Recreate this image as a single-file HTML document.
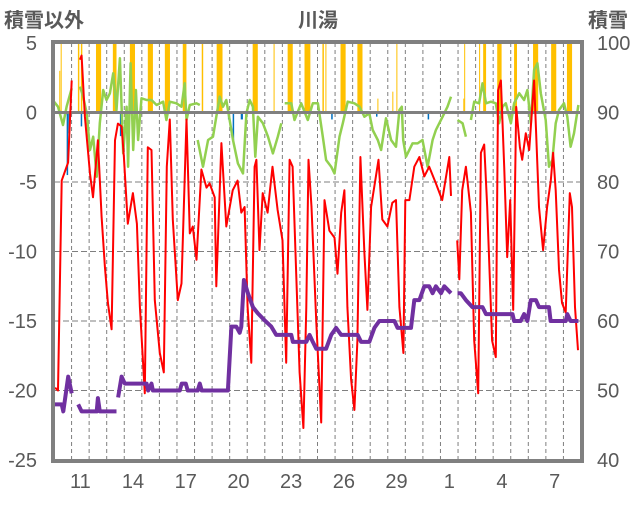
<!DOCTYPE html>
<html><head><meta charset="utf-8">
<style>
html,body{margin:0;padding:0;background:#fff;}
body{width:636px;height:501px;overflow:hidden;font-family:"Liberation Sans","Noto Sans CJK JP",sans-serif;}
svg text{fill:#595959;font-family:"Liberation Sans","Noto Sans CJK JP",sans-serif;}
</style></head>
<body>
<svg id="chart" width="636" height="501" viewBox="0 0 636 501" xmlns="http://www.w3.org/2000/svg">
<text x="4" y="27" font-size="20" font-weight="bold">積雪以外</text>
<text x="318" y="27" font-size="20" font-weight="bold" text-anchor="middle">川湯</text>
<text x="588" y="27" font-size="20" font-weight="bold">積雪</text>
<g id="grid"></g>
<g id="bars"></g>
<g id="lines"></g>
<g id="axes"></g>
</svg>
<script>
// ---- data ----
const xLabels = ["11","14","17","20","23","26","29","1","4","7"];
const xLabelDays = [1,4,7,10,13,16,19,22,25,28];
const leftTicks = [5,0,-5,-10,-15,-20,-25];
const rightTicks = [100,90,80,70,60,50,40];
const nDays = 30;
// red series (time in days, value)
const redT = [0.06,0.23,0.44,0.80,1.01,null,1.48,1.57,1.76,2.05,2.22,2.50,2.71,2.90,3.07,3.28,3.47,3.64,3.85,3.98,4.20,4.49,4.72,4.89,5.17,5.34,5.55,5.74,6.02,6.25,6.42,6.59,6.76,7.05,7.26,7.54,7.73,7.90,8.11,8.39,8.68,8.86,9.15,9.24,9.53,9.81,10.17,10.45,10.66,10.85,11.02,11.23,11.42,11.52,11.70,11.88,12.16,12.44,12.73,13.01,13.22,13.41,13.58,13.79,13.98,14.20,14.36,14.49,14.66,14.93,15.21,15.40,15.68,15.97,16.14,16.35,16.53,16.70,16.91,17.10,17.27,17.44,17.67,17.84,18.05,18.47,18.69,18.98,19.26,19.47,19.66,19.89,20.00,20.23,20.51,20.80,21.08,21.36,21.74,22.10,22.50,22.60,null,22.95,23.07,23.24,23.45,23.73,23.92,24.15,24.30,24.49,24.66,24.94,25.15,25.28,25.44,25.63,25.80,25.97,26.14,26.31,26.52,26.65,26.86,27.05,27.33,27.61,27.84,28.07,28.28,28.41,28.56,28.75,28.92,29.13,29.36,29.49,29.66,29.83];
const redV = [-19.8,-20,-4.9,-3.6,2.3,null,3.8,4.1,-0.3,-4.4,-6.1,-2,-7.5,-11.1,-13.7,-15.6,-2,-0.8,-1,-3.2,-8,-5.8,-8,-14,-20.2,-2.5,-2.7,-13.5,-17.3,-18.7,-3.9,-0.5,-7.7,-13.5,-12.3,-0.5,-8.7,-8.2,-10.6,-4.1,-5.4,-5.1,-6.1,-12.5,-2.2,-8.2,-5.6,-4.9,-7.2,-6.8,-14,-18,-3.9,-3.4,-9.9,-5.8,-7.2,-3.9,-7,-9.2,-18,-3.4,-3.9,-11.6,-18.7,-22.7,-14,-3.4,-6.8,-15.1,-22.3,-6.3,-8.5,-9,-11.6,-7.2,-5.6,-14,-19.2,-21.4,-16.4,-3.2,-10.1,-14.2,-6.8,-3.4,-7.7,-8.2,-6.5,-6.3,-14,-17.3,-6.3,-6.3,-3.9,-3.2,-4.6,-3.9,-5.1,-6.3,-3.2,-6,null,-9.2,-12,-5.6,-3.9,-7.2,-16.4,-20.2,-2.9,-2.3,-6.8,-16.4,-17.6,1.6,2.3,-3.9,-10.4,-6.3,-14.2,0.4,-2.5,-3.4,-1.5,-2.7,2.3,-6.8,-9.9,-6.8,-4.9,-2.9,-5.6,-11.3,-13.7,-14.4,-5.8,-6.8,-14,-17.1];
// green series
const greenT = [0,0.23,0.51,0.72,1.01,null,1.48,1.66,1.86,2.05,2.23,2.43,2.61,2.80,2.99,3.18,3.37,3.56,3.75,3.94,4.13,4.22,4.36,4.51,4.66,4.79,4.98,5.27,5.55,5.84,6.21,6.40,6.59,6.97,7.26,7.44,7.54,7.73,8.11,8.30,null,8.18,8.48,8.77,9.05,9.24,9.43,9.62,9.81,10.19,10.47,10.76,10.95,11.14,11.32,11.46,11.61,11.89,12.18,12.46,12.74,12.94,null,13.13,13.51,13.69,14.07,14.45,14.73,15.02,15.30,15.49,15.78,15.97,16.25,16.44,16.72,17.10,17.39,17.67,17.95,18.14,18.43,18.62,18.90,19.19,19.47,19.66,19.80,19.88,20.04,20.41,20.70,20.98,21.27,21.55,21.74,22.12,22.40,22.60,null,22.97,23.26,23.45,null,23.73,23.92,24.20,24.39,24.59,24.87,25.15,25.34,25.53,25.72,26.01,26.19,26.48,26.76,26.95,27.14,27.33,27.52,27.71,27.99,28.18,28.37,28.56,28.75,29.03,29.22,29.41,29.60,29.85];
const greenV = [0.78,0.42,-0.9,0.42,1.74,null,1.86,1.14,-0.06,-2.7,-1.74,-4.62,-0.78,1.62,0.9,1.38,2.82,0.18,3.9,-2.94,0.42,-3.9,3.54,-2.7,1.62,-1.98,1.02,0.9,0.9,0.54,0.78,-0.54,0.78,0.66,0.42,2.1,-0.54,0.54,0.66,0.54,null,-1.98,-3.9,-1.98,-1.74,-0.3,1.14,0.42,0.9,-1.98,-3.66,-4.38,-0.06,0.9,0.42,-3.18,-0.3,-0.78,-1.74,-2.94,-1.74,-0.78,null,0.66,0.66,-0.54,0.66,-0.54,0.66,0.66,-1.74,-3.42,-3.9,-4.38,-1.74,-0.78,0.78,0.66,0.42,-0.3,-0.06,-1.26,-1.98,-2.7,-0.42,-1.98,-2.46,0.18,0.42,-1.98,-3.18,-2.22,-2.22,-1.98,-3.9,-1.98,-1.26,-0.3,0.42,1.14,null,-0.54,-0.78,-1.74,null,-0.54,0.78,0.66,2.1,0.66,0.78,0.66,-0.78,0.42,0.66,-0.78,0.66,1.38,0.9,1.62,-0.78,3.06,3.54,1.38,-0.54,-3.9,-3.42,-0.78,0.18,0.66,-0.3,-2.46,-1.5,0.54];
// purple series (snow depth, right axis)
const snowT = [0,0.44,0.53,0.81,1.01,null,1.38,1.57,2.43,2.5,2.61,3.56,null,3.65,3.85,4.03,5.27,5.36,5.55,5.63,7.16,7.27,7.5,7.61,8.18,8.30,8.41,9.72,9.90,10.10,10.38,10.57,10.66,10.81,11.04,11.32,11.61,11.99,12.37,12.65,13.51,13.60,14.36,14.55,14.73,14.93,15.49,15.78,16.06,16.35,17.29,17.48,17.95,18.24,18.52,19.38,19.56,20.32,20.51,20.80,21.08,21.36,21.55,21.74,22.03,22.22,22.60,null,22.97,23.16,23.45,23.82,24.39,24.59,26.10,26.19,26.57,26.76,26.95,27.14,27.43,27.61,28.18,28.27,29.13,29.22,29.41,29.85];
const snowV = [48,48,47,52,49.6,null,48,47,47,48.9,47,47,null,49,52,51,51,50,51,50,50,51,51,50,50,51,50,50,50,59.2,59.2,58.3,59.2,65.9,64,62,61.1,60.1,59.2,58,58,57,57,58,57,56,56,58,59,58,58,57,57,59,60,60,59,59,63,63,65,65,64,65,64,65,64,null,64,64,63,62,62,61,61,60,60,61,60,63,63,62,62,60,60,61,60,60];
// orange bars: start day, duration hours, value
const orangeT = [0.30,0.38,1.36,1.53,2.39,3.35,4.32,5.34,6.31,7.33,8.41,9.26,11.31,12.50,13.30,14.26,15.28,15.45,16.31,17.27,18.41,19.26,19.49,23.30,23.35,24.20,24.43,25.23,26.19,27.27,28.30,29.20];
const orangeH = [1,1,2,2,7,5,7,7,7,5,2,8,7,1,7,8,2,1,7,7,1,1,1,1,1,1,4,6,4,7,7,7];
const orangeV = [3,5,5,5,5,5,5,5,5,5,5,5,5,5,5,5,5,5,5,5,1,1.5,5,1,5,5,5,5,5,5,5,5];
// blue bars
const blueT = [0.72,0.81,1.52,3.75,9.90,10.17,10.63,15.78,18.33,21.27];
const blueH = [1,1,1,1,1,1,3,1,1,1];
const blueV = [-4.5,-1.5,-1.0,-1.7,-0.5,-2.0,-0.5,-0.5,-0.3,-0.5];

// ---- scales ----
const X0=54, X1=581, Y0=43, Y1=460;
const xs = t => X0 + t*(X1-X0)/nDays;
const yL = v => Y0 + (5-v)*(Y1-Y0)/30;
const yR = v => Y0 + (100-v)*(Y1-Y0)/60;
const NS="http://www.w3.org/2000/svg";
function mk(tag, parent, attrs){const e=document.createElementNS(NS,tag);for(const k in attrs)e.setAttribute(k,attrs[k]);parent.appendChild(e);return e;}
const grid=document.getElementById('grid'), bars=document.getElementById('bars'), lines=document.getElementById('lines'), axes=document.getElementById('axes');

for(let d=1; d<nDays; d++){
  const l=mk('line',grid,{x1:xs(d),x2:xs(d),y1:Y0,y2:Y1,stroke:'#7f7f7f','stroke-width':1,'stroke-dasharray':'4,3'});
  
  
}
[-5,-10,-15,-20].forEach(v=>{
  const l=mk('line',grid,{x1:X0,x2:X1,y1:yL(v),y2:yL(v),stroke:'#7f7f7f','stroke-width':1,'stroke-dasharray':'6,3'});
  
  
});
const hw=(X1-X0)/nDays/24;
orangeT.forEach((t,i)=>{
  const top=yL(Math.min(orangeV[i],5));
  const r=mk('rect',bars,{x:xs(t),y:top,width:Math.max(1,orangeH[i]*hw),height:yL(0)-top,fill:'#ffc000'});
  
  
});
blueT.forEach((t,i)=>{
  const r=mk('rect',bars,{x:xs(t),y:yL(0),width:Math.max(1.5,blueH[i]*hw),height:yL(blueV[i])-yL(0),fill:'#0070c0'});
  
  
});
function pathD(T,V,ys){let d='',pen=false;for(let i=0;i<T.length;i++){if(T[i]===null){pen=false;continue;}d+=(pen?'L':'M')+xs(T[i]).toFixed(1)+','+ys(V[i]).toFixed(1);pen=true;}return d;}
const g=mk('path',lines,{d:pathD(greenT,greenV,yL),fill:'none',stroke:'#92d050','stroke-width':2.5,'stroke-linejoin':'round'});


const z=mk('line',lines,{x1:X0,x2:X1,y1:yL(0),y2:yL(0),stroke:'#808080','stroke-width':3});


const r=mk('path',lines,{d:pathD(redT,redV,yL),fill:'none',stroke:'#ff0000','stroke-width':2,'stroke-linejoin':'round'});


const p=mk('path',lines,{d:pathD(snowT,snowV,yR),fill:'none',stroke:'#7030a0','stroke-width':4,'stroke-linejoin':'round'});



const fr=mk('rect',axes,{x:X0-1,y:Y0-1,width:X1-X0+2,height:Y1-Y0+2,fill:'none',stroke:'#808080','stroke-width':4});


leftTicks.forEach(v=>{
  const t=mk('text',axes,{x:37,y:yL(v)+7,'font-size':20,'text-anchor':'end'});
  t.textContent=v;
  
  
});
rightTicks.forEach(v=>{
  const t=mk('text',axes,{x:597,y:yR(v)+7,'font-size':20});
  t.textContent=v;
  
  
});
xLabels.forEach((s,i)=>{
  const t=mk('text',axes,{x:xs(xLabelDays[i]+0.5),y:488,'font-size':20,'text-anchor':'middle'});
  t.textContent=s;
  
  
});
</script>
</body></html>
